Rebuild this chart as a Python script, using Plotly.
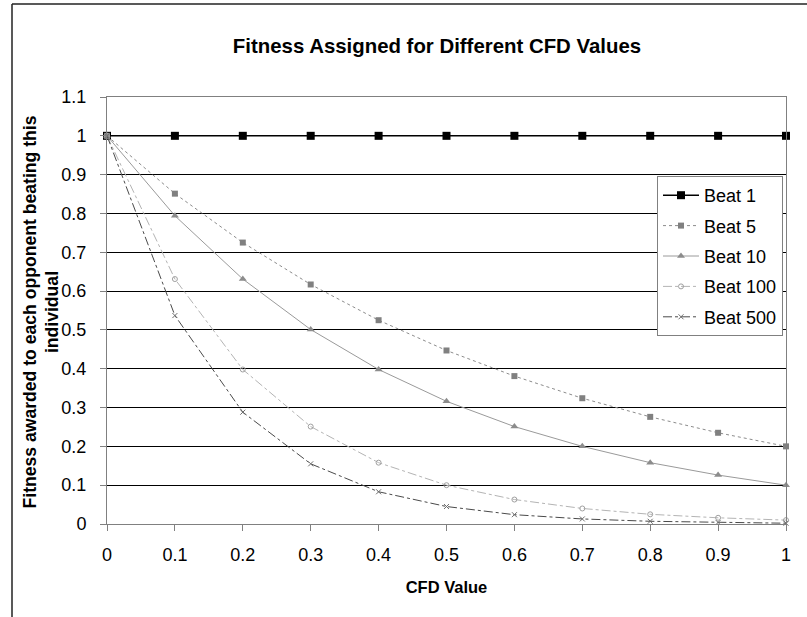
import plotly.graph_objects as go

# CFD values on the x axis
cfd = [0, 0.1, 0.2, 0.3, 0.4, 0.5, 0.6, 0.7, 0.8, 0.9, 1.0]

# Fitness awarded per opponent for each "Beat n" series
beat_1 = [1, 1, 1, 1, 1, 1, 1, 1, 1, 1, 1]
beat_5 = [1, 0.851, 0.725, 0.617, 0.525, 0.447, 0.381, 0.324, 0.276, 0.235, 0.2]
beat_10 = [1, 0.794, 0.631, 0.501, 0.398, 0.316, 0.251, 0.2, 0.158, 0.126, 0.1]
beat_100 = [1, 0.631, 0.398, 0.251, 0.158, 0.1, 0.063, 0.04, 0.025, 0.016, 0.01]
beat_500 = [1, 0.537, 0.288, 0.155, 0.083, 0.045, 0.024, 0.013, 0.007, 0.004, 0.002]

series_names = ["Beat 1", "Beat 5", "Beat 10", "Beat 100", "Beat 500"]

x_ticks = [0, 0.1, 0.2, 0.3, 0.4, 0.5, 0.6, 0.7, 0.8, 0.9, 1.0]
x_tick_text = ["0", "0.1", "0.2", "0.3", "0.4", "0.5", "0.6", "0.7", "0.8", "0.9", "1"]
y_ticks = [0, 0.1, 0.2, 0.3, 0.4, 0.5, 0.6, 0.7, 0.8, 0.9, 1.0, 1.1]
y_tick_text = ["0", "0.1", "0.2", "0.3", "0.4", "0.5", "0.6", "0.7", "0.8", "0.9", "1", "1.1"]

W, H = 807, 617
L, R, T, B = 107, 21, 97, 93
FONT = "Liberation Sans, Arial, sans-serif"


def px_x(p):
    return (p - L) / (W - L - R)


def px_y(p):
    return (H - B - p) / (H - T - B)


styles = [
    dict(line=dict(color="#000000", width=1.5, dash="solid"),
         marker=dict(symbol="square", size=8, color="#000000")),
    dict(line=dict(color="#8c8c8c", width=1, dash="dot"),
         marker=dict(symbol="square", size=6, color="#808080")),
    dict(line=dict(color="#9a9a9a", width=1, dash="solid"),
         marker=dict(symbol="triangle-up", size=7, color="#8c8c8c")),
    dict(line=dict(color="#b4b4b4", width=1, dash="dashdot"),
         marker=dict(symbol="circle-open", size=5, color="#a0a0a0", line=dict(width=1))),
    dict(line=dict(color="#4a4a4a", width=1, dash="dashdot"),
         marker=dict(symbol="x-thin-open", size=5, color="#6e6e6e", line=dict(width=1))),
]

fig = go.Figure()
for name, ys, st in zip(series_names, [beat_1, beat_5, beat_10, beat_100, beat_500], styles):
    fig.add_trace(go.Scatter(
        x=cfd, y=ys, name=name, mode="lines+markers",
        line=st["line"], marker=st["marker"], cliponaxis=False,
        legendgroup=name,
    ))

fig.update_layout(
    width=W, height=H,
    margin=dict(l=L, r=R, t=T, b=B),
    paper_bgcolor="white", plot_bgcolor="white",
    font=dict(family=FONT, color="black", size=18),
    title=dict(text="<b>Fitness Assigned for Different CFD Values</b>",
               x=437 / W, xanchor="center", xref="container",
               y=1 - 46 / H, yanchor="middle", yref="container",
               font=dict(size=20.4, family=FONT, color="black")),
    legend=dict(x=px_x(657), y=px_y(176), xanchor="left", yanchor="top",
                bgcolor="white", bordercolor="#808080", borderwidth=1,
                font=dict(size=18, family=FONT), traceorder="grouped",
                tracegroupgap=4, itemwidth=36),
    showlegend=True,
)

fig.update_xaxes(
    range=[0, 1], tickvals=x_ticks, ticktext=x_tick_text,
    showgrid=False, zeroline=False,
    showline=True, linecolor="#808080", linewidth=1, mirror=True,
    ticks="outside", ticklen=6, tickcolor="#808080",
    ticklabelstandoff=8,
    title=dict(text="<b>CFD Value</b>", font=dict(size=16.5, family=FONT), standoff=17),
)
fig.update_yaxes(
    range=[0, 1.1], tickvals=y_ticks, ticktext=y_tick_text,
    showgrid=True, gridcolor="#000000", gridwidth=1, zeroline=False,
    showline=True, linecolor="#808080", linewidth=1, mirror=True,
    ticks="outside", ticklen=6, tickcolor="#808080",
    ticklabelstandoff=10,
)

# Rotated two-line y-axis title
fig.add_annotation(
    text="<b>Fitness awarded to each opponent beating this<br>individual</b>",
    xref="paper", yref="paper", x=px_x(40.5), y=px_y(312),
    xanchor="center", yanchor="middle", textangle=-90, showarrow=False,
    font=dict(size=17.6, family=FONT, color="black"),
)

# Outer chart frame
fig.add_shape(type="line", xref="paper", yref="paper",
              x0=px_x(12), x1=px_x(W + 5), y0=px_y(4), y1=px_y(4),
              line=dict(color="#222222", width=1.5))
fig.add_shape(type="line", xref="paper", yref="paper",
              x0=px_x(12), x1=px_x(12), y0=px_y(4), y1=px_y(H + 5),
              line=dict(color="#222222", width=1.5))

fig.write_html("out.html")
